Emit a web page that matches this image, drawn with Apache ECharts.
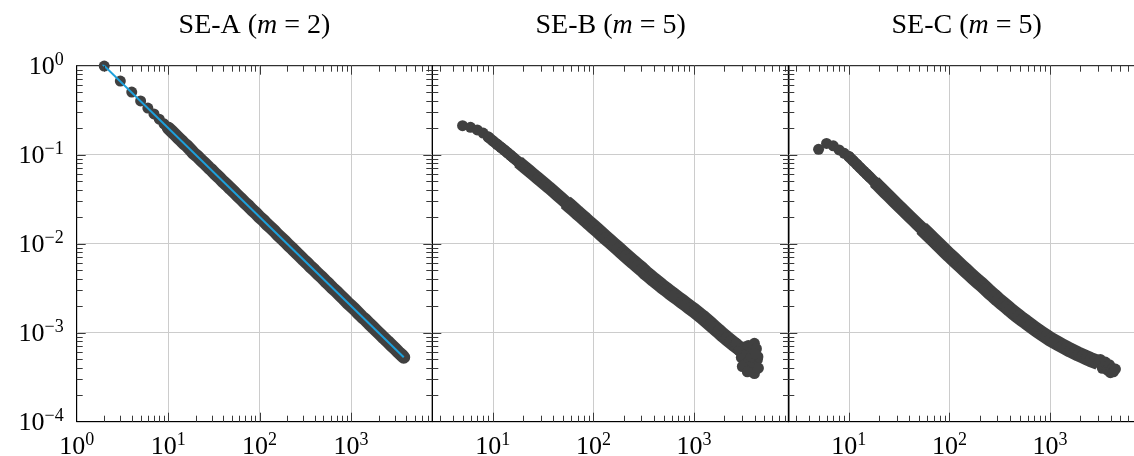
<!DOCTYPE html>
<html><head><meta charset="utf-8">
<script src="https://cdn.jsdelivr.net/npm/echarts@6/dist/echarts.min.js"></script>
<style>html,body{margin:0;padding:0;background:#fff}#c{width:1134px;height:456px}</style>
</head><body><div id="c"></div>
<script>
// ---------------- data ----------------
const panelNames = ['SE-A', 'SE-B', 'SE-C'];
const panelM = ['2', '5', '5'];

const degA = [2,3,4,5,6,7,8,9,10,11,12,13,14,15,16,18,19,21,23,25,28,30,33,36,40,44,48,53,58,63,69,76,83,91,100,110,120,132,145,158,174,191,209,229,251,275,302,331,363,398,437,479,525,575,631,692,759,832,912,1000,1096,1202,1318,1445,1585,1738,1905,2089,2291,2512,2754,3020,3311,3631,3776];
const valA = [0.99,0.672,0.505,0.402,0.334,0.287,0.251,0.222,0.2,0.182,0.167,0.154,0.143,0.133,0.126,0.111,0.104,0.0955,0.0868,0.0802,0.0712,0.0669,0.0604,0.0557,0.0498,0.0456,0.0416,0.0378,0.0344,0.0318,0.0289,0.0264,0.0240,0.0221,0.0199,0.0183,0.0166,0.0152,0.0139,0.0126,0.0115,0.0105,0.00955,0.00875,0.00795,0.00729,0.00660,0.00606,0.00549,0.00504,0.00457,0.00419,0.00380,0.00349,0.00316,0.00290,0.00263,0.00241,0.00218,0.00200,0.00183,0.00166,0.00151,0.00139,0.00126,0.00115,0.00105,0.000958,0.000871,0.000798,0.000725,0.000664,0.000602,0.000552,0.00053];

const degB = [5,6,7,8,9,10,11,12,13,14,15,16,18,19,21,23,25,28,30,33,36,40,44,48,53,58,63,69,76,83,91,100,110,120,132,145,158,174,191,209,229,251,275,302,331,363,398,437,479,525,575,631,692,759,832,912,1000,1096,1202,1318,1445,1585,1738,1905,2089,2291,2512,2754,3020,
  2630,2818,2951,3162,3162,3311,3467,3548,3631,3802,3890,3981,3981,4169,4266,4315,4365,3020,3388,3715,4074];
const valB = [0.212,0.203,0.190,0.175,0.158,0.143,0.131,0.121,0.1127,0.105,0.0984,0.0925,0.0828,0.0785,0.0714,0.0655,0.0605,0.0543,0.0509,0.0465,0.0429,0.0387,0.0352,0.0323,0.0292,0.0267,0.0246,0.0224,0.0204,0.0187,0.0170,0.0155,0.0141,0.0129,0.01172,0.01069,0.0098,0.0089,0.00811,0.00741,0.00676,0.00617,0.00566,0.00518,0.00469,0.0043,0.00394,0.00362,0.00333,0.00308,0.00284,0.00263,0.00243,0.00225,0.00208,0.00192,0.00178,0.00164,0.00151,0.00138,0.00126,0.00115,0.00105,0.000955,0.000875,0.000805,0.000741,0.000682,0.000628,
  0.00076,0.00063,0.000525,0.00069,0.00044,0.000575,0.00072,0.0005,0.00038,0.00063,0.000437,0.000347,0.00076,0.00066,0.0005,0.000537,0.0004,0.000417,0.000363,0.000537,0.000575];

const degC = [5,6,7,8,9,10,11,12,13,14,15,16,18,19,21,23,25,28,30,33,36,40,44,48,53,58,63,69,76,83,91,100,110,120,132,145,158,174,191,209,229,251,275,302,331,363,398,437,479,525,575,631,692,759,832,912,1000,1096,1202,1318,1445,1585,1738,1905,2089,2291,2512,2754,3020,
  3162,3311,3548,3715,3890,3981,4169,4266,4467];
const valC = [0.115,0.134,0.126,0.113,0.1035,0.0955,0.0859,0.078,0.0711,0.0655,0.0607,0.0565,0.0494,0.0466,0.0416,0.0375,0.0342,0.0301,0.0279,0.0251,0.0228,0.0203,0.0183,0.0166,0.0149,0.0135,0.01233,0.01114,0.01002,0.0091,0.00822,0.00741,0.00671,0.00612,0.00553,0.00502,0.00458,0.00414,0.00377,0.00347,0.00314,0.00285,0.00261,0.00237,0.00217,0.00199,0.00182,0.00167,0.00154,0.00142,0.00132,0.00122,0.00113,0.00105,0.000977,0.000912,0.000851,0.000802,0.000755,0.000713,0.000675,0.000638,0.000607,0.000577,0.00055,0.000525,0.000501,0.000481,0.000461,
  0.0005,0.000398,0.000468,0.00038,0.000437,0.000355,0.000398,0.000363,0.00039];

// power-law fit line for SE-A
const fitX = [1.9, 3776];
const fitY = [1.05, 0.00053];

// axes
const xRanges = [[1, 7750], [2.5, 8790], [2.5, 8790]];
const yRange = [0.0001, 1];
const xMajorTicks = [1, 10, 100, 1000];
const xMajorLabels = ['0', '1', '2', '3'];
const yMajorTicks = [0.0001, 0.001, 0.01, 0.1, 1];
const yMajorLabels = ['\u22124', '\u22123', '\u22122', '\u22121', '0'];
const xMinorTicks = [2,3,4,5,6,7,8,9,20,30,40,50,60,70,80,90,200,300,400,500,600,700,800,900,2000,3000,4000,5000,6000,7000,8000,9000];
const yMinorTicks = [0.0002,0.0003,0.0004,0.0005,0.0006,0.0007,0.0008,0.0009,0.002,0.003,0.004,0.005,0.006,0.007,0.008,0.009,0.02,0.03,0.04,0.05,0.06,0.07,0.08,0.09,0.2,0.3,0.4,0.5,0.6,0.7,0.8,0.9];

// ---------------- layout / style ----------------
const FONT = '"Liberation Serif", "DejaVu Serif", serif';
const GRID_TOP = 65.7, GRID_H = 356;
const gridBoxes = [{left: 76.7, width: 355.6}, {left: 432.3, width: 356.7}, {left: 788.3, width: 356.7}];
// dense parts of each point cloud, drawn as thick bands through the same points: [fromIndex, toIndex, width, cap]
const bandParts = [
  [[8, 74, 13, 'round']],
  [[4, 14, 11, 'round'], [12, 26, 13, 'butt'], [24, 68, 15, 'butt']],
  [[5, 14, 11, 'round'], [12, 26, 13, 'butt'], [24, 68, 15, 'butt']]
];
const DOT_SIZE = 11;
const MAJOR_LEN = 9, MINOR_LEN = 6;
const DOT = '#404040', FIT = '#1ca0dc', GRIDC = '#cccccc', TICKC = '#3a3a3a';

const labelRich = {
  b: {fontFamily: FONT, fontSize: 26, color: '#000', verticalAlign: 'bottom'},
  s: {fontFamily: FONT, fontSize: 18, color: '#000', verticalAlign: 'bottom', padding: [0, 0, 10, 0]}
};
function fmt(ticks, labels) {
  return function (v) {
    for (let i = 0; i < ticks.length; i++) {
      if (Math.abs(Math.log10(v) - Math.log10(ticks[i])) < 1e-6) return '{b|10}{s|' + labels[i] + '}';
    }
    return '';
  };
}

function tickData(xr) {
  const d = [];
  xMajorTicks.forEach(v => { if (v > xr[0] && v < xr[1]) d.push([v, 0.5, 0]); });
  xMinorTicks.forEach(v => { if (v > xr[0] && v < xr[1]) d.push([v, 0.5, 1]); });
  yMajorTicks.forEach(v => { if (v > yRange[0] && v < yRange[1]) d.push([xr[0], v, 2]); });
  yMinorTicks.forEach(v => { if (v > yRange[0] && v < yRange[1]) d.push([xr[0], v, 3]); });
  return d;
}
function renderTick(params, api) {
  const cs = params.coordSys;
  const kind = api.value(2);
  const style = {stroke: TICKC, lineWidth: 1};
  if (kind < 2) {
    const px = Math.round(api.coord([api.value(0), 0.5])[0]) + 0.5;
    const len = kind === 0 ? MAJOR_LEN : MINOR_LEN;
    const yb = cs.y + cs.height, yt = cs.y;
    return {type: 'group', children: [
      {type: 'line', shape: {x1: px, y1: yb, x2: px, y2: yb - len}, style: style},
      {type: 'line', shape: {x1: px, y1: yt, x2: px, y2: yt + len}, style: style}
    ]};
  }
  const py = Math.round(api.coord([api.value(0), api.value(1)])[1]) + 0.5;
  const len = kind === 2 ? MAJOR_LEN : MINOR_LEN;
  const xl = cs.x, xr = cs.x + cs.width;
  return {type: 'group', children: [
    {type: 'line', shape: {x1: xl, y1: py, x2: xl + len, y2: py}, style: style},
    {type: 'line', shape: {x1: xr, y1: py, x2: xr - len, y2: py}, style: style}
  ]};
}

const grid = [], xAxis = [], yAxis = [], title = [], series = [];
const degs = [degA, degB, degC], vals = [valA, valB, valC];
for (let i = 0; i < 3; i++) {
  const g = gridBoxes[i];
  grid.push({left: g.left, width: g.width, top: GRID_TOP, height: GRID_H, show: true,
    borderColor: '#000', borderWidth: 1, backgroundColor: 'transparent', containLabel: false, outerBoundsMode: 'none'});
  xAxis.push({type: 'log', logBase: 10, gridIndex: i, min: xRanges[i][0], max: xRanges[i][1], position: 'bottom',
    axisLine: {show: true, onZero: false, lineStyle: {color: '#000', width: 1}},
    axisTick: {show: false}, minorTick: {show: false},
    splitLine: {show: true, showMinLine: false, showMaxLine: false, lineStyle: {color: GRIDC, width: 1}},
    axisLabel: {show: true, margin: 10, formatter: fmt(xMajorTicks, xMajorLabels), rich: labelRich, hideOverlap: false}
  });
  yAxis.push({type: 'log', logBase: 10, gridIndex: i, min: yRange[0], max: yRange[1], position: 'left',
    axisLine: {show: true, onZero: false, lineStyle: {color: '#000', width: 1}},
    axisTick: {show: false}, minorTick: {show: false},
    splitLine: {show: true, showMinLine: false, showMaxLine: false, lineStyle: {color: GRIDC, width: 1}},
    axisLabel: {show: i === 0, margin: 13, formatter: fmt(yMajorTicks, yMajorLabels), rich: labelRich, hideOverlap: false}
  });
  title.push({
    text: panelNames[i] + ' ({i|m} = ' + panelM[i] + ')',
    left: g.left + g.width / 2, top: 12, textAlign: 'center', padding: 0,
    textStyle: {fontFamily: FONT, fontSize: 28, fontWeight: 'normal', color: '#000',
      rich: {i: {fontFamily: FONT, fontSize: 28, fontStyle: 'italic', color: '#000'}}}
  });
  const pts = degs[i].map((k, j) => [k, vals[i][j]]);
  bandParts[i].forEach(function (bp) {
    series.push({type: 'line', xAxisIndex: i, yAxisIndex: i, showSymbol: false, symbol: 'none', z: 2, silent: true,
      lineStyle: {color: DOT, width: bp[2], cap: bp[3], join: 'round'},
      data: pts.slice(bp[0], bp[1] + 1)});
  });
  series.push({type: 'scatter', xAxisIndex: i, yAxisIndex: i, symbol: 'circle', symbolSize: DOT_SIZE,
    itemStyle: {color: DOT, opacity: 1}, z: 3, silent: true, data: pts});
  series.push({type: 'custom', xAxisIndex: i, yAxisIndex: i, z: 5, silent: true, clip: false,
    encode: {x: 0, y: 1}, renderItem: renderTick, data: tickData(xRanges[i])});
}
series.push({type: 'line', xAxisIndex: 0, yAxisIndex: 0, showSymbol: false, symbol: 'none', clip: true, z: 4, silent: true,
  lineStyle: {color: FIT, width: 2}, data: fitX.map((x, j) => [x, fitY[j]])});

const chart = echarts.init(document.getElementById('c'), null, {renderer: 'canvas'});
chart.setOption({animation: false, backgroundColor: '#fff', title, grid, xAxis, yAxis, series});
</script></body></html>
